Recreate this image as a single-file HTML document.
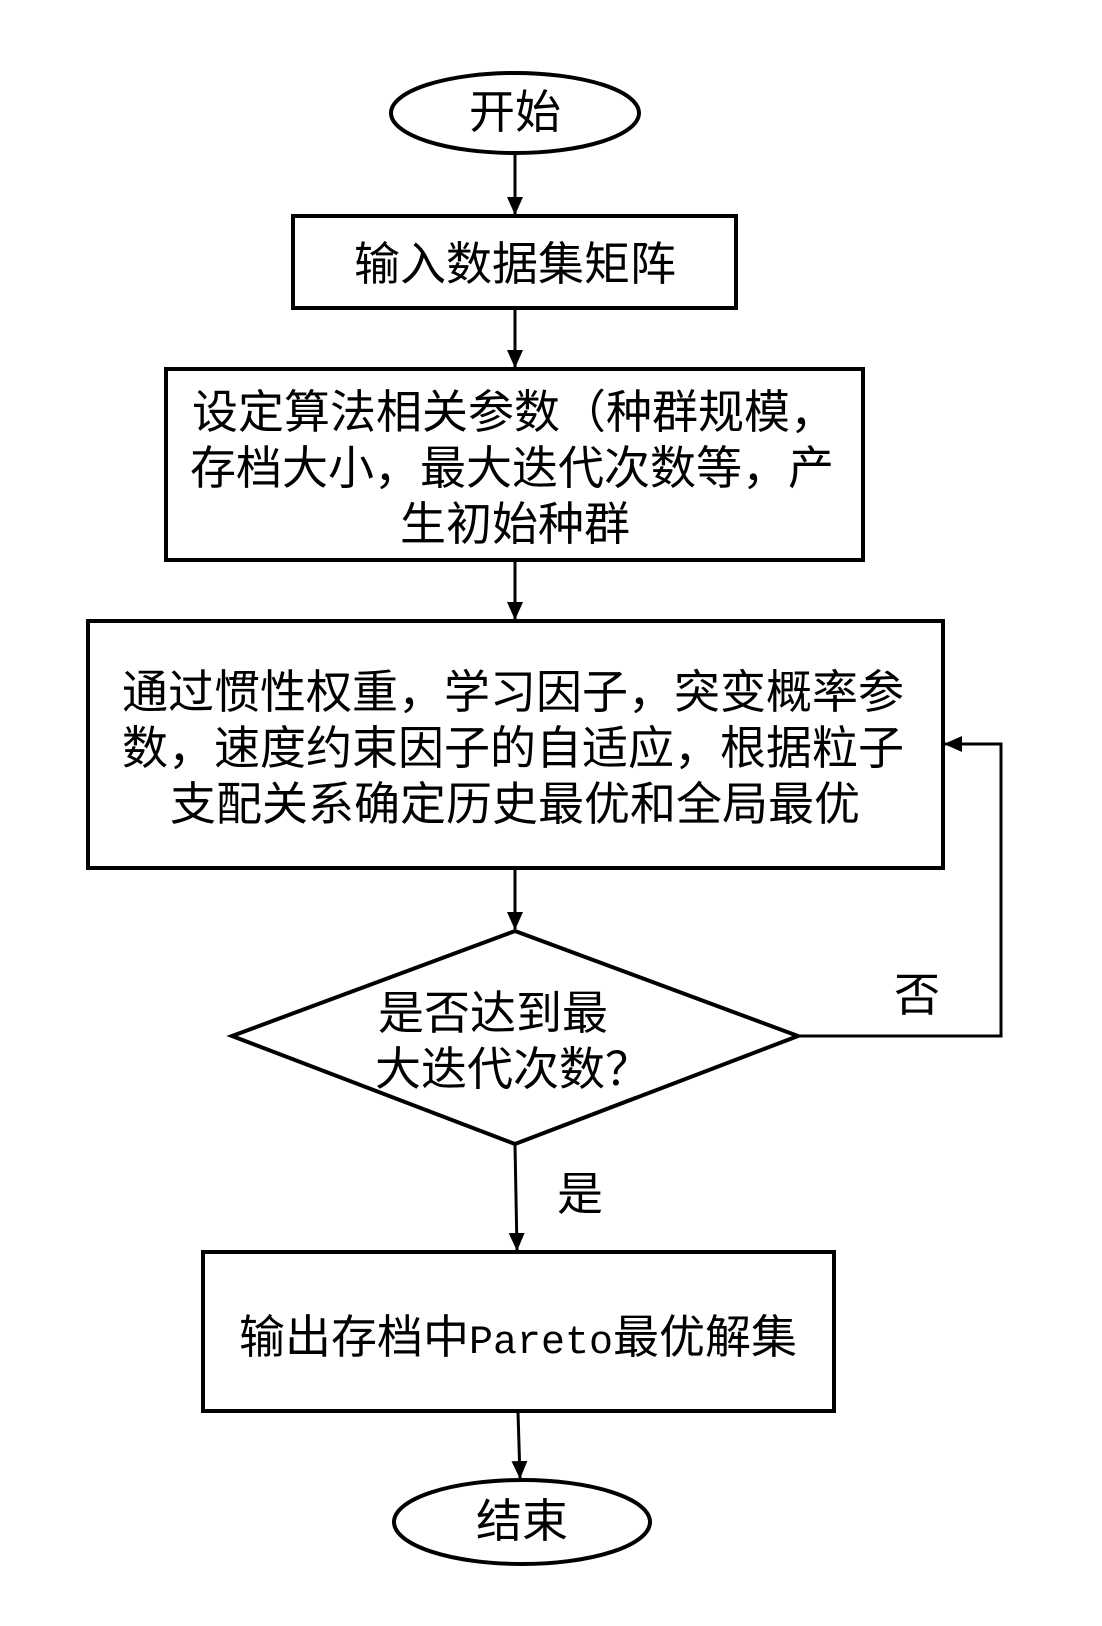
<!DOCTYPE html>
<html><head><meta charset="utf-8"><style>
html,body{margin:0;padding:0;background:#fff;}
svg{display:block}
text{font-family:"Liberation Serif","Noto Sans CJK SC",serif;font-size:46px;fill:#000;}
</style></head><body>
<svg width="1102" height="1626" viewBox="0 0 1102 1626" xmlns="http://www.w3.org/2000/svg">
<defs>
<marker id="b" markerWidth="18" markerHeight="16" refX="17" refY="8" orient="auto" markerUnits="userSpaceOnUse"><path d="M0,0 L18,8 L0,16 z" fill="#000"/></marker></defs>
<g fill="none" stroke="#000" stroke-width="4">
<ellipse cx="515" cy="113" rx="124" ry="40"/>
<rect x="293" y="216" width="443" height="92"/>
<rect x="166" y="369" width="697" height="191"/>
<rect x="88" y="621" width="855" height="247"/>
<polygon points="515,931 798,1036 515,1144 232,1036"/>
<rect x="203" y="1252" width="631" height="159"/>
<ellipse cx="522" cy="1522" rx="128" ry="42"/>
</g>
<g stroke="#000" stroke-width="3" fill="none">
<line x1="515" y1="153" x2="515" y2="214" marker-end="url(#b)"/>
<line x1="515" y1="309" x2="515" y2="367" marker-end="url(#b)"/>
<line x1="515" y1="561" x2="515" y2="619" marker-end="url(#b)"/>
<line x1="515" y1="869" x2="515" y2="929" marker-end="url(#b)"/>
<line x1="515" y1="1145" x2="517" y2="1250" marker-end="url(#b)"/>
<line x1="518" y1="1412" x2="520" y2="1478" marker-end="url(#b)"/>
<polyline points="798,1036 1001,1036 1001,744 945,744" marker-end="url(#b)"/>
</g>
<text x="515" y="128" text-anchor="middle">开始</text>
<text x="515" y="280" text-anchor="middle">输入数据集矩阵</text>
<text x="192" y="428">设定算法相关参数（种群规模，</text>
<text x="190" y="484">存档大小，最大迭代次数等，产</text>
<text x="515" y="540" text-anchor="middle">生初始种群</text>
<text x="122" y="708">通过惯性权重，学习因子，突变概率参</text>
<text x="122" y="764">数，速度约束因子的自适应，根据粒子</text>
<text x="515" y="820" text-anchor="middle">支配关系确定历史最优和全局最优</text>
<text x="378" y="1029">是否达到最</text>
<text x="375" y="1085">大迭代次数？</text>
<text x="917" y="1011" text-anchor="middle">否</text>
<text x="580" y="1210" text-anchor="middle">是</text>
<text x="518" y="1353" text-anchor="middle">输出存档中<tspan font-family="Liberation Mono,monospace" font-size="40">Pareto</tspan>最优解集</text>
<text x="522" y="1537" text-anchor="middle">结束</text>
</svg>
</body></html>
